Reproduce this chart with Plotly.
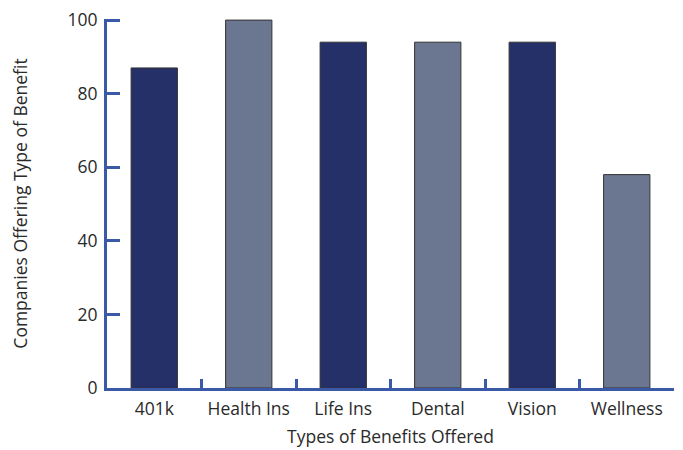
import plotly.graph_objects as go

categories = ["401k", "Health Ins", "Life Ins", "Dental", "Vision", "Wellness"]
values = [87, 100, 94, 94, 94, 58]
bar_colors = ["#253068", "#6b7690", "#253068", "#6b7690", "#253068", "#6b7690"]
y_ticks = [0, 20, 40, 60, 80, 100]

axis_color = "#3a5aa8"
font = dict(family="Open Sans, sans-serif", color="#2a2a2a")

fig = go.Figure(go.Bar(
    x=categories, y=values,
    marker=dict(color=bar_colors, line=dict(color="#333333", width=1)),
))

# page body has an 8px margin; figure is sized/offset to compensate
fig.update_layout(
    width=675, height=442,
    margin=dict(l=99, r=9, t=11, b=62, autoexpand=False),
    plot_bgcolor="white", paper_bgcolor="white",
    bargap=0.51,
    showlegend=False,
    font=dict(size=17.5, **font),
)
fig.update_xaxes(
    showline=True, linecolor=axis_color, linewidth=3,
    ticks="inside", tickson="boundaries", ticklen=9, tickwidth=3, tickcolor=axis_color,
    tickfont=dict(size=17.5, **font), ticklabelstandoff=3,
    title=dict(text="Types of Benefits Offered", font=dict(size=17.5, **font), standoff=12),
    showgrid=False, automargin=False,
)
fig.update_yaxes(
    range=[0, 100.3], tickvals=y_ticks,
    showline=True, linecolor=axis_color, linewidth=3,
    ticks="inside", ticklen=13, tickwidth=3, tickcolor=axis_color,
    tickfont=dict(size=17.5, **font), ticklabelstandoff=3,
    ticklabeloverflow="allow",
    title=dict(text="Companies Offering Type of Benefit", font=dict(size=17.5, **font), standoff=45),
    showgrid=False, zeroline=False, automargin=False,
)

fig.write_html("out.html")
